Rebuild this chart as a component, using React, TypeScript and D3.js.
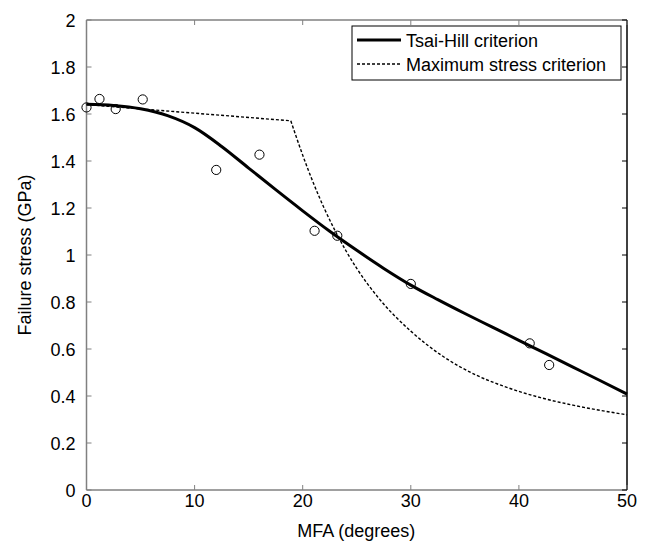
import * as d3 from "d3";

// measured failure stress (GPa) vs microfibril angle (deg)
const expMfa = [0.0, 1.2, 2.7, 5.2, 12.0, 16.0, 21.1, 23.2, 30.0, 41.0, 42.8];
const expStress = [1.628, 1.664, 1.621, 1.662, 1.362, 1.427, 1.103, 1.082, 0.877, 0.624, 0.532];

// Tsai-Hill prediction
const thMfa = [0, 2.5, 5, 7.5, 10, 12.5, 15, 17.5, 20, 22.5, 25, 27.5, 30, 32.5, 35, 37.5, 40, 42.5, 45, 47.5, 50];
const thStress = [1.641, 1.636, 1.622, 1.593, 1.542, 1.462, 1.37, 1.278, 1.188, 1.101, 1.02, 0.943, 0.872, 0.81, 0.751, 0.694, 0.637, 0.58, 0.523, 0.466, 0.408];

// maximum stress prediction: plateau then drop
const msPlateauMfa = [0, 18.9];
const msPlateauStress = [1.64, 1.571];
const msDropMfa = [18.9, 20, 21, 22, 23, 24, 25, 27, 30, 33, 36, 39, 42, 45, 50];
const msDropStress = [1.571, 1.425, 1.305, 1.198, 1.103, 1.018, 0.943, 0.818, 0.676, 0.568, 0.49, 0.435, 0.393, 0.361, 0.32];

const xTicks = [0, 10, 20, 30, 40, 50];
const yTicks = [0, 0.2, 0.4, 0.6, 0.8, 1, 1.2, 1.4, 1.6, 1.8, 2];
const legendLabels = ["Tsai-Hill criterion", "Maximum stress criterion"];

const W = 648;
const H = 545;
const font = "'Liberation Sans', Arial, sans-serif";
const axisGray = "#808080";

export default function App() {
  const x = d3.scaleLinear().domain([0, 50]).range([86.5, 627]);
  const y = d3.scaleLinear().domain([0, 2]).range([490, 20]);
  const [x0, x1] = x.range();
  const [y0, y1] = y.range();

  const zip = (a: number[], b: number[]) => a.map((v, i) => [v, b[i]] as [number, number]);
  const straight = d3
    .line<[number, number]>()
    .x((d) => x(d[0]))
    .y((d) => y(d[1]));
  const smooth = d3
    .line<[number, number]>()
    .x((d) => x(d[0]))
    .y((d) => y(d[1]))
    .curve(d3.curveMonotoneX);

  const thPath = smooth(zip(thMfa, thStress));
  const plateauPath = straight(zip(msPlateauMfa, msPlateauStress));
  const dropPath = smooth(zip(msDropMfa, msDropStress));

  const tick = 5;
  const legX = 352;
  const legY = 26;

  return (
    <svg
      width={W}
      height={H}
      style={{ position: "absolute", left: 0, top: 0, background: "#fff" }}
      fontFamily={font}
    >
      <rect width={W} height={H} fill="#fff" />

      {/* frame */}
      <line x1={x0} x2={x1} y1={y1} y2={y1} stroke={axisGray} strokeWidth={1.5} />
      <line x1={x0} x2={x0} y1={y0} y2={y1} stroke={axisGray} strokeWidth={1.5} />
      <line x1={x0} x2={x1} y1={y0} y2={y0} stroke={axisGray} strokeWidth={1.5} />
      <line x1={x1} x2={x1} y1={y0} y2={y1} stroke="#000" strokeWidth={1.5} />

      {/* x ticks */}
      {xTicks.map((t) => (
        <g key={"x" + t}>
          <line x1={x(t)} x2={x(t)} y1={y0} y2={y0 - tick} stroke={axisGray} />
          <line x1={x(t)} x2={x(t)} y1={y1} y2={y1 + tick} stroke={axisGray} />
          <text x={x(t)} y={y0 + 17} fontSize={18} textAnchor="middle">
            {t}
          </text>
        </g>
      ))}

      {/* y ticks */}
      {yTicks.map((t) => (
        <g key={"y" + t}>
          <line x1={x0} x2={x0 + tick} y1={y(t)} y2={y(t)} stroke={axisGray} />
          <line x1={x1} x2={x1 - tick} y1={y(t)} y2={y(t)} stroke="#000" />
          <text x={x0 - 11} y={y(t) + 6.5} fontSize={18} textAnchor="end">
            {t}
          </text>
        </g>
      ))}

      <text x={(x0 + x1) / 2 - 0.5} y={537} fontSize={18} textAnchor="middle">
        MFA (degrees)
      </text>
      <text
        transform={`translate(31,${(y0 + y1) / 2}) rotate(-90)`}
        fontSize={18}
        textAnchor="middle"
      >
        Failure stress (GPa)
      </text>

      {/* curves */}
      <path d={plateauPath ?? ""} fill="none" stroke="#000" strokeWidth={1.4} strokeDasharray="3,2" />
      <path d={dropPath ?? ""} fill="none" stroke="#000" strokeWidth={1.4} strokeDasharray="3,2" />
      <path d={thPath ?? ""} fill="none" stroke="#000" strokeWidth={3} />

      {/* experimental points */}
      {expMfa.map((m, i) => (
        <circle key={i} cx={x(m)} cy={y(expStress[i])} r={4.6} fill="none" stroke="#000" strokeWidth={1} />
      ))}

      {/* legend */}
      <rect x={legX} y={legY} width={621 - legX} height={54} fill="#fff" stroke="#000" strokeWidth={1} />
      <line x1={legX + 5} x2={legX + 49} y1={legY + 14} y2={legY + 14} stroke="#000" strokeWidth={3} />
      <line x1={legX + 5} x2={legX + 49} y1={legY + 38} y2={legY + 38} stroke="#000" strokeWidth={1.4} strokeDasharray="3,2" />
      {legendLabels.map((l, i) => (
        <text key={l} x={legX + 54} y={legY + 20.5 + i * 24} fontSize={18}>
          {l}
        </text>
      ))}
    </svg>
  );
}
